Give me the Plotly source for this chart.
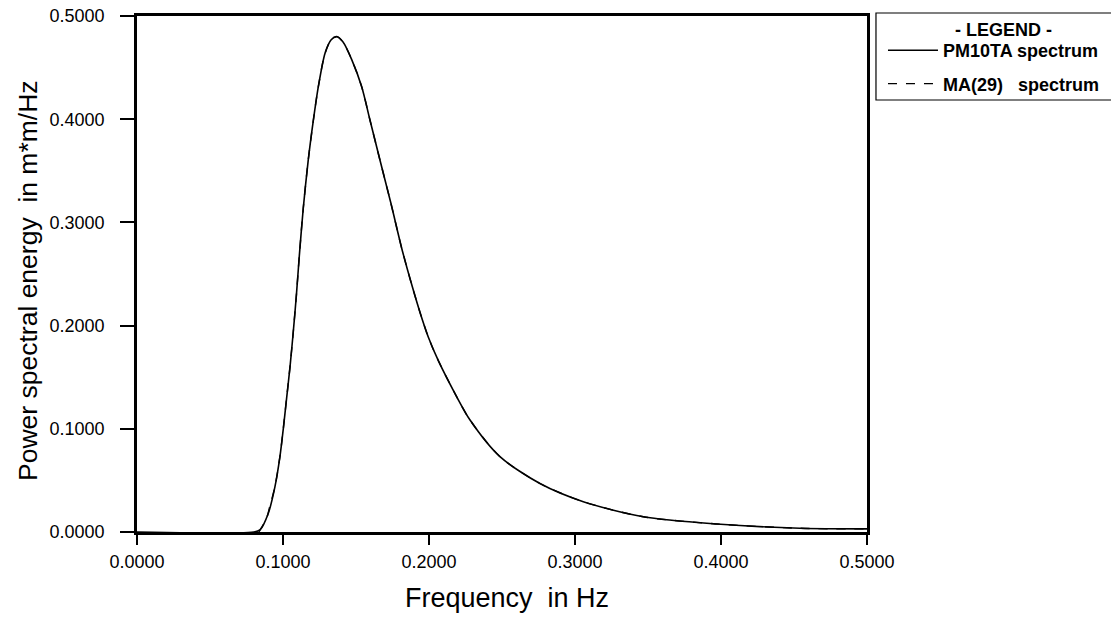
import plotly.graph_objects as go

# ---- data ----
freq_pm = [0.000, 0.080, 0.0842, 0.0899, 0.0945, 0.0979, 0.1002, 0.1025, 0.1048,
           0.1071, 0.1092, 0.1112, 0.1139, 0.1173, 0.1208, 0.1242, 0.1288, 0.1330,
           0.1368, 0.1410, 0.1470, 0.1539, 0.1596, 0.1664, 0.1740, 0.1813, 0.1881,
           0.1938, 0.1995, 0.2064, 0.2190, 0.2281, 0.2486, 0.2760, 0.3057, 0.3468,
           0.3970, 0.4540, 0.5000]
psd_pm = [0.0000, 0.0000, 0.0020, 0.0180, 0.0440, 0.0730, 0.1000, 0.1300, 0.1600,
          0.1950, 0.2300, 0.2680, 0.3140, 0.3605, 0.3990, 0.4315, 0.4639, 0.4770,
          0.4800, 0.4750, 0.4580, 0.4315, 0.3990, 0.3605, 0.3180, 0.2750, 0.2400,
          0.2130, 0.1890, 0.1660, 0.1310, 0.1085, 0.0730, 0.0470, 0.0294, 0.0148,
          0.0078, 0.0036, 0.0030]

freq_ma = [0.0835, 0.0860, 0.0885, 0.0910, 0.0945, 0.0979, 0.1002, 0.1025, 0.1048,
           0.1071, 0.1092, 0.1112, 0.1139, 0.1173, 0.1208, 0.1242, 0.1288, 0.1330,
           0.1368, 0.1410, 0.1470, 0.1539, 0.1596, 0.1664, 0.1740, 0.1813, 0.1881,
           0.1938, 0.1995, 0.2064, 0.2190, 0.2281, 0.2486, 0.2760, 0.3057, 0.3468,
           0.3970, 0.4540, 0.5000]
psd_ma = [0.0000, 0.0060, 0.0120, 0.0250, 0.0440, 0.0730, 0.1000, 0.1300, 0.1600,
          0.1950, 0.2300, 0.2680, 0.3140, 0.3605, 0.3990, 0.4315, 0.4639, 0.4770,
          0.4800, 0.4750, 0.4580, 0.4315, 0.3990, 0.3605, 0.3180, 0.2750, 0.2400,
          0.2130, 0.1890, 0.1660, 0.1310, 0.1085, 0.0730, 0.0470, 0.0294, 0.0148,
          0.0078, 0.0036, 0.0030]

tick_vals = [0.0, 0.1, 0.2, 0.3, 0.4, 0.5]
tick_text = ["0.0000", "0.1000", "0.2000", "0.3000", "0.4000", "0.5000"]

series_names = ["PM10TA spectrum", "MA(29)\u00a0\u00a0\u00a0spectrum"]
x_title = "Frequency\u00a0\u00a0in Hz"
y_title = "Power spectral energy\u00a0\u00a0in m*m/Hz"
legend_title = "- LEGEND -"

FONT = "Liberation Sans, Arial, Helvetica, sans-serif"

fig = go.Figure()
fig.add_trace(go.Scatter(x=freq_pm, y=psd_pm, mode="lines", name=series_names[0],
                         line=dict(color="black", width=1.6, shape="spline", smoothing=0.8),
                         legendgroup="a"))
fig.add_trace(go.Scatter(x=freq_ma, y=psd_ma, mode="lines", name=series_names[1],
                         line=dict(color="black", width=1.4, dash="dash",
                                   shape="spline", smoothing=0.8),
                         legendgroup="b"))

axis_common = dict(
    showline=True, linecolor="black", linewidth=2.5, mirror=True,
    ticks="outside", tickcolor="black", tickwidth=1.5,
    showgrid=False, zeroline=False, automargin=False,
    ticklabeloverflow="allow",
    tickvals=tick_vals, ticktext=tick_text,
    tickfont=dict(family=FONT, size=18, color="black"),
    range=[0, 0.5],
)

# the page body adds an 8 px offset, so the figure is 8 px smaller
fig.update_layout(
    width=1111, height=613, autosize=False,
    margin=dict(l=129, r=252, t=8, b=89, pad=0),
    paper_bgcolor="white", plot_bgcolor="white",
    font=dict(family=FONT, color="black"),
    xaxis=dict(**axis_common, ticklen=10, ticklabelstandoff=2),
    yaxis=dict(**axis_common, ticklen=14, ticklabelstandoff=12),
    showlegend=True,
    legend=dict(
        x=1.0219, y=0.969, xanchor="left", yanchor="top",
        borderwidth=0, bgcolor="rgba(0,0,0,0)",
        font=dict(family=FONT, size=18, color="black", weight="bold"),
        traceorder="grouped", tracegroupgap=7, itemwidth=50,
    ),
    shapes=[
        dict(type="rect", xref="paper", yref="paper", x0=1.0123, x1=1.3397,
             y0=0.8372, y1=1.0058, line=dict(color="black", width=1.2),
             fillcolor="rgba(0,0,0,0)", layer="below"),
    ],
    annotations=[
        dict(text=legend_title, xref="paper", yref="paper", x=1.187, y=0.9729,
             xanchor="center", yanchor="middle", showarrow=False,
             font=dict(family=FONT, size=18, color="black", weight="bold")),
        dict(text=x_title, xref="paper", yref="paper", x=0.5, y=0,
             xanchor="center", yanchor="middle", yshift=-66, xshift=5,
             showarrow=False, font=dict(family=FONT, size=27, color="black")),
        dict(text=y_title, xref="paper", yref="paper", x=0, y=0.5,
             xanchor="center", yanchor="middle", xshift=-109, yshift=-7, textangle=-90,
             showarrow=False, font=dict(family=FONT, size=26.5, color="black")),
    ],
)

fig.write_html("out.html")
